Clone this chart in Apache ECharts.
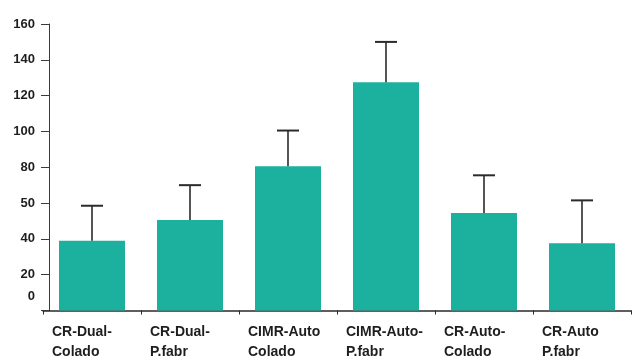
<!DOCTYPE html>
<html>
<head>
<meta charset="utf-8">
<script src="https://cdn.jsdelivr.net/npm/echarts@6/dist/echarts.min.js"></script>
<style>
  html, body { margin: 0; padding: 0; background: #ffffff; }
  #chart { width: 640px; height: 362px; }
</style>
</head>
<body>
<div id="chart"></div>
<script>
// Group names along the category axis
const categories = [
  'CR-Dual-\nColado',
  'CR-Dual-\nP.fabr',
  'CIMR-Auto\nColado',
  'CIMR-Auto-\nP.fabr',
  'CR-Auto-\nColado',
  'CR-Auto\nP.fabr'
];
// Mean value of each group
const means = [39, 50.5, 80.5, 127.5, 54.5, 37.5];
// Standard deviation of each group (drawn upward only)
const deviations = [19.5, 19.5, 20, 22.5, 21, 24];
// Text printed at each y tick, from 0 up to 160
const yTickLabels = ['0', '20', '40', '50', '80', '100', '120', '140', '160'];

const chart = echarts.init(document.getElementById('chart'), null, { renderer: 'canvas' });

const errorData = means.map((m, i) => [i, m, m + deviations[i]]);

const baseFont = {
  fontFamily: 'Liberation Sans, Arial, sans-serif',
  fontWeight: 'bold',
  color: '#1e1e1e'
};
const yFont = Object.assign({ fontSize: 13 }, baseFont);
const xFont = Object.assign({ fontSize: 14 }, baseFont);

chart.setOption({
  animation: false,
  backgroundColor: '#ffffff',
  grid: { left: 43, right: 9, top: 24, bottom: 51.5, containLabel: false },
  xAxis: {
    type: 'category',
    data: categories,
    axisLine: { show: true, lineStyle: { color: '#2a2a2a', width: 1.5 } },
    axisTick: { show: true, length: 4, alignWithLabel: false, lineStyle: { color: '#2a2a2a' } },
    axisLabel: {
      margin: 12,
      interval: 0,
      formatter: v => '{a|' + v + '}',
      rich: {
        a: Object.assign({ width: 80, align: 'left', lineHeight: 20 }, xFont)
      }
    },
    splitLine: { show: false }
  },
  yAxis: {
    type: 'value',
    min: 0,
    max: 160,
    interval: 20,
    offset: -6,
    axisLine: { show: true, lineStyle: { color: '#3a3a3a', width: 1 } },
    axisTick: { show: true, length: 8, inside: false, lineStyle: { color: '#3a3a3a' } },
    splitLine: { show: false },
    axisLabel: Object.assign({
      margin: 14,
      formatter: v => {
        const t = yTickLabels[Math.round(v / 20)];
        return v === 0 ? '{z|' + t + '}' : t;
      },
      rich: {
        z: Object.assign({ padding: [0, 0, 28, 0] }, yFont)
      }
    }, yFont)
  },
  series: [
    {
      type: 'bar',
      data: means,
      barWidth: 66,
      itemStyle: { color: '#1cb09e' },
      z: 2
    },
    {
      type: 'custom',
      data: errorData,
      z: 3,
      renderItem: (params, api) => {
        const idx = api.value(0);
        const base = api.coord([idx, api.value(1)]);
        const top = api.coord([idx, api.value(2)]);
        const half = 11;
        return {
          type: 'group',
          children: [
            { type: 'line', shape: { x1: base[0], y1: base[1], x2: top[0], y2: top[1] },
              style: { stroke: '#2b2b2b', lineWidth: 1.6 } },
            { type: 'line', shape: { x1: top[0] - half, y1: top[1], x2: top[0] + half, y2: top[1] },
              style: { stroke: '#2b2b2b', lineWidth: 2 } }
          ]
        };
      }
    }
  ]
});
</script>
</body>
</html>
